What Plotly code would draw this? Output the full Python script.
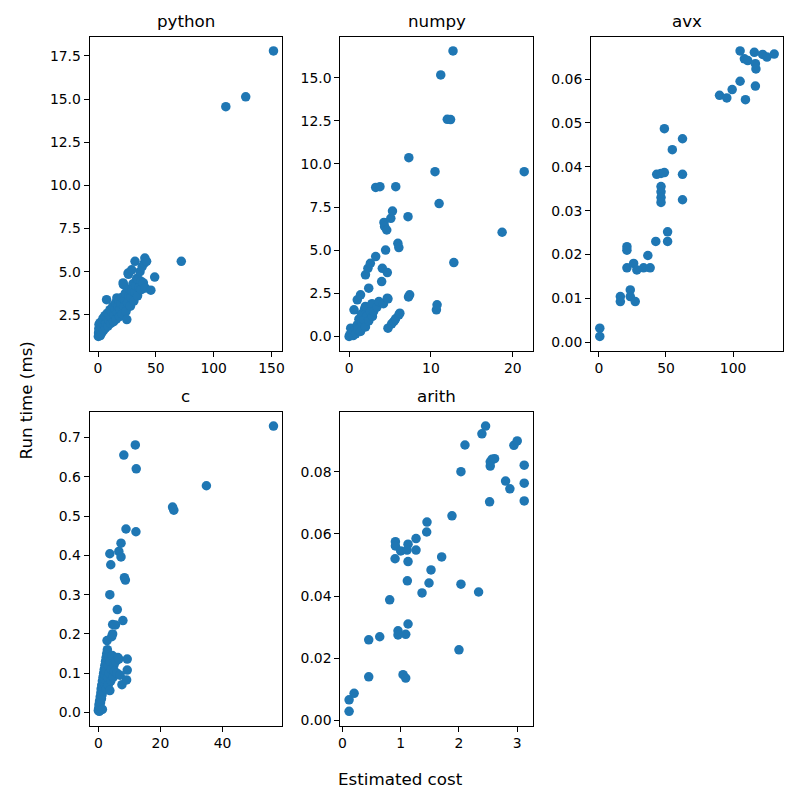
import numpy as np
import plotly.graph_objects as go

# estimated cost / run time (ms) per backend
python_cost = [0.3, 0.5, 0.7, 0.9, 1.0, 1.2, 1.5, 1.8, 2.0, 2.3, 2.6, 3.0, 3.2, 3.6, 4.0, 4.3,
               4.8, 5.2, 5.6, 6.0, 6.5, 7.0, 7.4, 7.5, 8.0, 8.6, 9.2, 9.8, 10.4, 11.0, 11.6,
               12.2, 12.8, 13.5, 14.0, 14.6, 15.2, 15.8, 16.3, 16.8, 17.4, 18.0, 18.6, 19.2,
               19.8, 20.4, 21.0, 21.7, 22.0, 22.3, 23.0, 23.6, 24.2, 24.9, 25.5, 26.0, 26.3,
               26.8, 27.4, 28.0, 28.6, 29.1, 29.5, 30.2, 31.0, 31.8, 32.0, 32.6, 33.4, 34.2,
               34.9, 35.5, 36.3, 37.4, 37.4, 38.2, 39.2, 40.0, 40.5, 41.0, 42.0, 45.7, 49.0,
               72.0, 110.5, 127.7, 151.7]
python_time = [1.25, 1.45, 1.7, 1.95, 1.35, 1.55, 1.8, 2.05, 1.3, 1.6, 1.9, 2.1, 1.45, 1.75,
               2.0, 2.3, 1.6, 1.9, 2.2, 2.45, 1.75, 2.05, 3.38, 2.35, 2.6, 1.85, 2.2, 2.5, 2.8,
               2.0, 2.35, 2.65, 3.0, 2.1, 2.5, 2.85, 3.2, 2.25, 3.48, 2.65, 3.0, 3.35, 2.4, 2.8,
               3.15, 3.5, 2.55, 4.35, 4.25, 3.0, 3.4, 3.75, 2.7, 2.23, 3.2, 4.92, 4.85, 3.6,
               4.0, 3.0, 3.5, 5.11, 3.9, 4.3, 3.3, 3.8, 5.6, 4.2, 4.6, 3.6, 4.54, 4.1, 5.0,
               3.96, 4.44, 5.3, 4.35, 5.5, 5.79, 4.05, 5.6, 3.93, 4.69, 5.6, 14.56, 15.13, 17.79]

numpy_cost = [0.0, 0.1, 0.2, 0.3, 0.5, 0.6, 0.6, 0.8, 1.0, 1.0, 1.1, 1.2, 1.4, 1.4, 1.5, 1.6,
              1.8, 1.9, 2.0, 2.0, 2.0, 2.2, 2.3, 2.4, 2.4, 2.6, 2.6, 2.8, 2.85, 3.0, 3.25, 3.25,
              3.4, 3.65, 3.77, 3.98, 4.06, 4.2, 4.26, 4.34, 4.46, 4.6, 4.67, 4.67, 4.75, 4.75,
              5.2, 5.47, 5.68, 5.1, 5.3, 5.7, 5.96, 6.08, 6.08, 6.2, 7.2, 7.26, 7.3, 7.4, 10.5,
              10.67, 10.75, 11.0, 11.2, 12.0, 12.4, 12.7, 12.8, 18.7, 21.4]
numpy_time = [0.0, 0.1, 0.48, 0.2, 0.05, 1.54, 0.3, 0.15, 0.67, 2.12, 0.4, 1.0, 0.29, 2.41,
              1.3, 0.8, 0.96, 1.6, 0.55, 3.57, 1.74, 1.2, 3.95, 2.8, 0.9, 1.45, 4.24, 1.9, 1.16,
              1.45, 4.63, 8.64, 1.7, 2.02, 8.68, 3.18, 3.95, 1.9, 6.61, 6.37, 5.01, 6.17, 3.7,
              2.22, 2.18, 0.48, 0.73, 0.87, 1.02, 6.85, 7.27, 8.68, 5.4, 5.15, 1.25, 1.35, 6.94,
              2.29, 10.36, 2.41, 9.55, 1.54, 1.83, 7.7, 15.16, 12.59, 12.57, 16.55, 4.28, 6.04,
              9.55]

avx_cost = [0.7, 0.7, 16.0, 16.0, 23.4, 23.4, 27.1, 20.9, 20.9, 20.9, 25.9, 28.3, 33.3, 38.2,
            36.5, 42.4, 51.2, 51.2, 46.3, 46.3, 46.3, 46.3, 43.1, 46.3, 48.8, 62.3, 62.3, 48.8,
            54.7, 62.3, 89.9, 95.3, 99.3, 105.2, 109.2, 116.6, 105.2, 108.4, 110.9, 115.8,
            116.6, 117.0, 122.0, 125.2, 130.6]
avx_time = [0.00325, 0.00136, 0.01045, 0.0093, 0.01195, 0.01045, 0.0093, 0.0218, 0.0210,
            0.0170, 0.0180, 0.0165, 0.0170, 0.0170, 0.0198, 0.0230, 0.0252, 0.0230, 0.0355,
            0.0343, 0.0330, 0.0319, 0.0383, 0.0385, 0.0387, 0.0383, 0.0325, 0.0487, 0.0439,
            0.0464, 0.0563, 0.0557, 0.0576, 0.0595, 0.0553, 0.0584, 0.0664, 0.0646, 0.0642,
            0.0661, 0.0635, 0.0623, 0.0656, 0.0650, 0.0657]

c_cost = [0.0, 0.1, 0.2, 0.3, 0.4, 0.5, 0.6, 0.7, 0.8, 0.9, 1.0, 1.1, 1.2, 1.3, 1.3, 1.4, 1.5,
          1.6, 1.7, 1.8, 1.9, 2.0, 2.1, 2.2, 2.3, 2.4, 2.5, 2.6, 2.7, 2.8, 2.9, 3.0, 3.1, 3.2,
          3.4, 3.5, 3.7, 3.7, 3.7, 3.8, 4.0, 4.0, 4.2, 4.3, 4.5, 4.6, 4.6, 4.8, 5.0, 5.2, 5.5,
          5.6, 6.0, 6.1, 6.3, 6.6, 6.6, 7.0, 7.3, 7.3, 7.6, 7.9, 8.2, 8.4, 8.7, 8.9, 9.1, 9.3,
          9.3, 11.9, 12.1, 12.2, 23.9, 24.3, 34.8, 56.4]
c_time = [0.005, 0.01, 0.02, 0.003, 0.03, 0.015, 0.04, 0.025, 0.05, 0.06, 0.035, 0.07, 0.045,
          0.008, 0.08, 0.055, 0.09, 0.065, 0.1, 0.075, 0.11, 0.085, 0.12, 0.095, 0.13, 0.105,
          0.14, 0.06, 0.15, 0.183, 0.16, 0.09, 0.12, 0.07, 0.14, 0.1, 0.056, 0.3, 0.404, 0.13,
          0.376, 0.08, 0.11, 0.193, 0.145, 0.2, 0.224, 0.09, 0.12, 0.105, 0.223, 0.13, 0.1,
          0.262, 0.14, 0.136, 0.41, 0.095, 0.396, 0.431, 0.071, 0.234, 0.655, 0.343, 0.337,
          0.467, 0.083, 0.108, 0.136, 0.681, 0.46, 0.62, 0.523, 0.515, 0.577, 0.729]

arith_cost = [2.457, 2.394, 2.103, 2.943, 3.0, 2.034, 2.537, 2.566, 2.611, 2.537, 3.12, 2.8,
              2.874, 3.12, 2.526, 3.12, 1.88, 1.451, 1.446, 1.263, 0.909, 0.909, 1.126, 1.0,
              1.109, 1.263, 0.903, 1.126, 1.703, 1.52, 1.114, 1.486, 2.034, 1.366, 2.337, 0.811,
              1.126, 0.954, 0.954, 1.086, 0.451, 0.64, 2.0, 0.451, 1.04, 1.086, 0.2, 0.114, 0.114]
arith_time = [0.0947, 0.0922, 0.0886, 0.0885, 0.0899, 0.0800, 0.0832, 0.0840, 0.0842, 0.0818,
              0.0821, 0.0770, 0.0745, 0.0763, 0.0703, 0.0706, 0.0658, 0.0638, 0.0606, 0.0585,
              0.0575, 0.0561, 0.0567, 0.0545, 0.0548, 0.0548, 0.0520, 0.0511, 0.0526, 0.0484,
              0.0449, 0.0442, 0.0438, 0.0410, 0.0413, 0.0388, 0.0310, 0.0288, 0.0275, 0.0277,
              0.0259, 0.0269, 0.0227, 0.0140, 0.0147, 0.0136, 0.0087, 0.0066, 0.0029]

# tick values shown on each panel
python_xticks = [0, 50, 100, 150]
python_yticks = [2.5, 5.0, 7.5, 10.0, 12.5, 15.0, 17.5]
numpy_xticks = [0, 10, 20]
numpy_yticks = [0.0, 2.5, 5.0, 7.5, 10.0, 12.5, 15.0]
avx_xticks = [0, 50, 100]
avx_yticks = [0.00, 0.01, 0.02, 0.03, 0.04, 0.05, 0.06]
c_xticks = [0, 20, 40]
c_yticks = [0.0, 0.1, 0.2, 0.3, 0.4, 0.5, 0.6, 0.7]
arith_xticks = [0, 1, 2, 3]
arith_yticks = [0.00, 0.02, 0.04, 0.06, 0.08]

panels = [
    ("python", python_cost, python_time, python_xticks, python_yticks, ".1f"),
    ("numpy", numpy_cost, numpy_time, numpy_xticks, numpy_yticks, ".1f"),
    ("avx", avx_cost, avx_time, avx_xticks, avx_yticks, ".2f"),
    ("c", c_cost, c_time, c_xticks, c_yticks, ".1f"),
    ("arith", arith_cost, arith_time, arith_xticks, arith_yticks, ".2f"),
]

# axes boxes in paper coords (page body has an 8px margin)
x_domains = [[0.100, 0.342], [0.415, 0.657], [0.730, 0.971]]
y_domains = [[0.570, 0.964], [0.0996, 0.4934]]

FONT = "DejaVu Sans"
BLUE = "#1f77b4"


def padded(vals):
    lo, hi = min(vals), max(vals)
    pad = (hi - lo) * 0.05
    return [lo - pad, hi + pad]


fig = go.Figure()
layout = {}
annotations = []

for i, (name, xs, ys, xt, yt, yfmt) in enumerate(panels):
    n = i + 1
    row, col = divmod(i, 3)
    xa = "xaxis" if n == 1 else f"xaxis{n}"
    ya = "yaxis" if n == 1 else f"yaxis{n}"
    fig.add_trace(go.Scatter(
        x=xs, y=ys, mode="markers",
        marker=dict(color=BLUE, size=9.5, line=dict(width=0)),
        xaxis=f"x{n}" if n > 1 else "x", yaxis=f"y{n}" if n > 1 else "y",
        showlegend=False,
    ))
    common = dict(
        showline=True, linecolor="black", linewidth=1, mirror=True,
        ticks="outside", ticklen=5, tickwidth=1, tickcolor="black",
        showgrid=False, zeroline=False,
        tickfont=dict(family=FONT, size=13.9, color="black"),
    )
    layout[xa] = dict(common, domain=x_domains[col], range=padded(xs),
                      tickvals=xt, anchor=f"y{n}" if n > 1 else "y")
    layout[ya] = dict(common, domain=y_domains[row], range=padded(ys),
                      tickvals=yt, tickformat=yfmt, anchor=f"x{n}" if n > 1 else "x")
    annotations.append(dict(
        text=name, xref="paper", yref="paper",
        x=sum(x_domains[col]) / 2, y=y_domains[row][1],
        xanchor="center", yanchor="bottom", yshift=4, showarrow=False,
        font=dict(family=FONT, size=16.7, color="black"),
    ))

annotations.append(dict(
    text="Estimated cost", xref="paper", yref="paper", x=0.49, y=0.0325,
    xanchor="center", yanchor="middle", showarrow=False,
    font=dict(family=FONT, size=16.7, color="black"),
))
annotations.append(dict(
    text="Run time (ms)", xref="paper", yref="paper", x=0.02, y=0.5075,
    xanchor="center", yanchor="middle", textangle=-90, showarrow=False,
    font=dict(family=FONT, size=16.7, color="black"),
))

fig.update_layout(
    width=800, height=800,
    margin=dict(l=0, r=0, t=0, b=0),
    paper_bgcolor="white", plot_bgcolor="white",
    annotations=annotations,
    **layout,
)

fig.write_html("out.html")
